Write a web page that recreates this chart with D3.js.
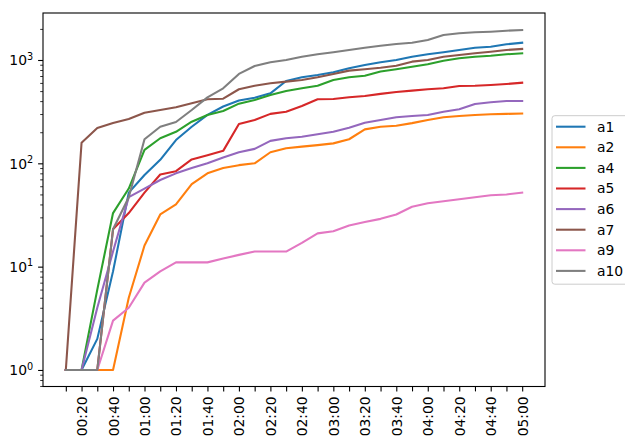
<!DOCTYPE html>
<html><head><meta charset="utf-8">
<script src="https://cdn.jsdelivr.net/npm/d3@7"></script>
<style>
html,body{margin:0;padding:0;background:#fff;}
svg{display:block;font-family:"DejaVu Sans",sans-serif;}
</style></head>
<body><svg id="chart" width="625" height="438"></svg>
<script>
// ---- data ----
const times = ["00:10","00:20","00:30","00:40","00:50","01:00","01:10","01:20","01:30","01:40",
  "01:50","02:00","02:10","02:20","02:30","02:40","02:50","03:00","03:10","03:20",
  "03:30","03:40","03:50","04:00","04:10","04:20","04:30","04:40","04:50","05:00"];
const xTickLabels = ["00:20","00:40","01:00","01:20","01:40","02:00","02:20","02:40","03:00",
  "03:20","03:40","04:00","04:20","04:40","05:00"];
const yTickExponents = [0, 1, 2, 3];
const seriesNames = ["a1","a2","a4","a5","a6","a7","a9","a10"];
const a1  = [1,1,2,9,52,77,108,168,226,294,355,405,432,476,627,681,716,760,832,895,951,1000,1077,1136,1188,1250,1316,1346,1419,1470];
const a2  = [1,1,1,1,5,16,32,40,63,80,90,96,100,128,140,145,150,156,171,213,226,231,245,263,279,287,294,298,301,303];
const a4  = [1,1,6,33,57,135,175,202,253,294,321,378,410,458,501,532,564,641,681,705,775,814,861,908,985,1038,1077,1101,1136,1160];
const a5  = [1,1,1,23,33,52,78,84,109,120,132,240,263,301,316,359,417,420,436,449,470,491,505,521,532,561,564,573,586,603];
const a6  = [1,1,4,14,47,57,69,80,90,100,114,128,138,165,175,181,191,202,221,247,263,279,287,294,316,333,375,390,401,401];
const a7  = [1,158,220,246,268,309,328,349,381,417,422,521,564,595,618,641,681,733,789,814,843,881,964,1000,1077,1117,1160,1203,1250,1279];
const a9  = [1,1,1,3,4,7,9,11,11,11,12,13,14,14,14,17,21,22,25,27,29,32,38,41,43,45,47,49,50,52];
const a10 = [1,1,1,23,47,171,226,251,328,435,532,733,875,951,1000,1077,1136,1188,1250,1316,1376,1429,1470,1563,1748,1812,1853,1880,1922,1950];
const seriesValues = [a1,a2,a4,a5,a6,a7,a9,a10];
const colors = ["#1f77b4","#ff7f0e","#2ca02c","#d62728","#9467bd","#8c564b","#e377c2","#7f7f7f"];

// ---- layout ----
const svg = d3.select("#chart");
const L = 43, R = 545, T = 13, B = 386.5;
const parse = d3.timeParse("%H:%M");
const tDates = times.map(parse);
const t0 = tDates[0], t1 = tDates[tDates.length-1];
const span = t1 - t0;
const x = d3.scaleTime()
  .domain([new Date(+t0 - span*0.05), new Date(+t1 + span*0.05)])
  .range([L, R]);
const y = d3.scaleLog().domain([0.692, 2850]).range([B, T]);

// lines
const line = d3.line().x((d,i)=>x(tDates[i])).y(d=>y(d));
const g = svg.append("g");
seriesValues.forEach((vals,k)=>{
  g.append("path").datum(vals)
    .attr("fill","none").attr("stroke",colors[k]).attr("stroke-width",2.08)
    .attr("stroke-linejoin","round").attr("stroke-linecap","square")
    .attr("d", line);
});

// frame
svg.append("rect").attr("x",L).attr("y",T).attr("width",R-L).attr("height",B-T)
  .attr("fill","none").attr("stroke","#000").attr("stroke-width",1.1);

// x axis
const fmt = d3.timeFormat("%H:%M");
const xAxis = d3.axisBottom(x).tickValues(tDates)
  .tickFormat(d => xTickLabels.includes(fmt(d)) ? fmt(d) : "")
  .tickSize(4.9).tickPadding(4.9);
const gx = svg.append("g").attr("transform",`translate(0,${B})`).call(xAxis);
gx.select(".domain").remove();
gx.selectAll(".tick line").attr("stroke","#000").attr("stroke-width",1.1);
gx.selectAll(".tick text")
  .attr("font-size","13.9px").attr("fill","#000")
  .attr("font-family","DejaVu Sans")
  .attr("text-anchor","end").attr("dy",null)
  .attr("transform","translate(0,9.8) rotate(-90)")
  .attr("y",0).attr("x",0)
  .attr("dominant-baseline","central");

// y axis major
const majors = yTickExponents.map(e=>Math.pow(10,e));
const gy = svg.append("g").attr("transform",`translate(${L},0)`)
  .call(d3.axisLeft(y).tickValues(majors).tickFormat("").tickSize(4.9));
gy.select(".domain").remove();
gy.selectAll(".tick line").attr("stroke","#000").attr("stroke-width",1.1);
gy.selectAll(".tick").each(function(d,i){
  const t = d3.select(this).append("text")
    .attr("x",-9.8).attr("y",0).attr("text-anchor","end")
    .attr("dy","0.35em").attr("fill","#000").attr("font-size","13.9px")
    .attr("font-family","DejaVu Sans");
  t.append("tspan").text("10");
  t.append("tspan").attr("dy","-0.6em").attr("font-size","9.7px").text(String(yTickExponents[i]));
});
// y minor ticks
const minors = [];
for (let e=-1;e<=3;e++) for (let m=2;m<=9;m++){
  const v = m*Math.pow(10,e);
  if (v>=y.domain()[0] && v<=y.domain()[1]) minors.push(v);
}
const gym = svg.append("g").attr("transform",`translate(${L},0)`)
  .call(d3.axisLeft(y).tickValues(minors).tickFormat("").tickSize(2.8));
gym.select(".domain").remove();
gym.selectAll(".tick line").attr("stroke","#000").attr("stroke-width",0.8);

// legend
const lg = svg.append("g");
lg.append("rect").attr("x",552).attr("y",115.7).attr("width",80).attr("height",168.5)
  .attr("rx",2.8).attr("fill","#fff").attr("fill-opacity",0.8)
  .attr("stroke","#cccccc").attr("stroke-width",1);
seriesNames.forEach((n,k)=>{
  const yy = 126.7 + k*20.6;
  lg.append("line").attr("x1",556).attr("x2",585.5).attr("y1",yy).attr("y2",yy)
    .attr("stroke",colors[k]).attr("stroke-width",2.08);
  lg.append("text").attr("x",597).attr("y",yy).attr("dy","0.35em")
    .attr("font-size","13.9px").attr("fill","#000").text(n);
});
</script></body></html>
